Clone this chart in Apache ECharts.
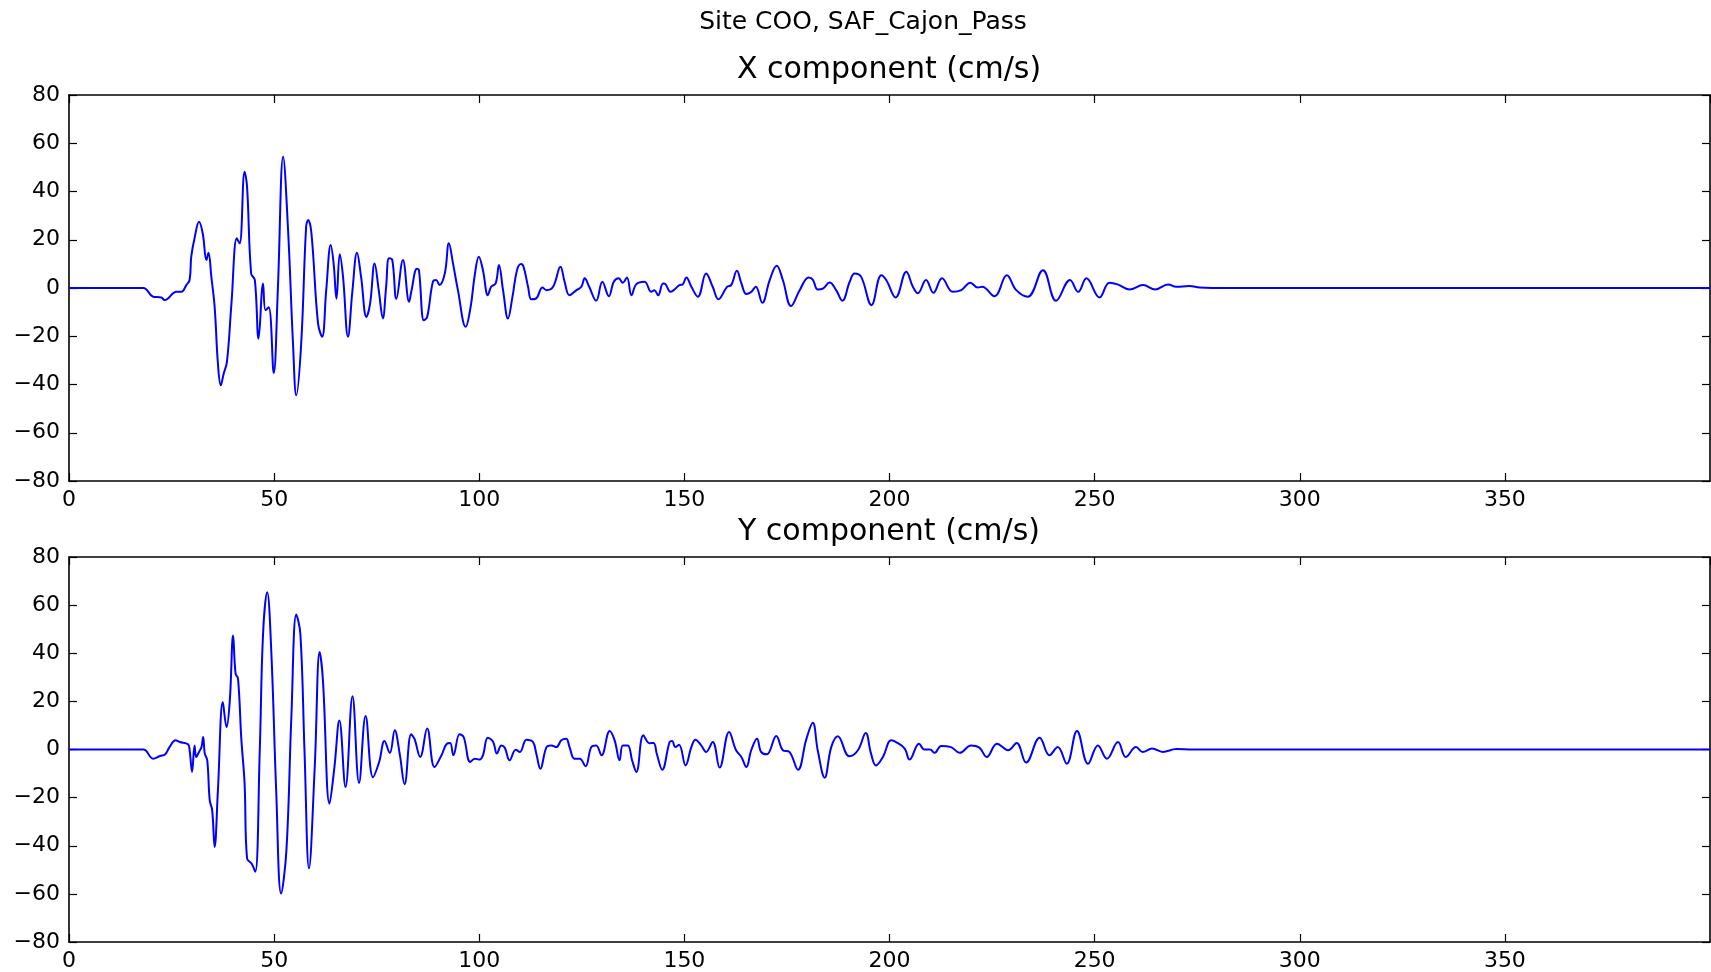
<!DOCTYPE html>
<html>
<head>
<meta charset="utf-8">
<script src="https://cdn.jsdelivr.net/npm/echarts@6/dist/echarts.min.js"></script>
<style>
html,body{margin:0;padding:0;background:#fff;}
#chart{width:1711px;height:972px;}
</style>
</head>
<body>
<div id="chart"></div>
<script>
// ---- data ----
const suptitle = 'Site COO, SAF_Cajon_Pass';
const panelTitles = ['X component (cm/s)', 'Y component (cm/s)'];

const timeX = [0, 18.1, 20.5, 22.5, 23.3, 26.2, 27.4, 28.6, 29.4, 29.8, 30.6, 31.7, 32.6, 33.5, 34.0, 34.7, 35.5, 36.3, 37.0, 37.7, 38.5, 39.6, 40.9, 41.6, 42.8, 43.4, 44.4, 45.3, 46.2, 47.3, 47.9, 48.7, 49.9, 50.9, 52.2, 53.4, 54.6, 55.4, 56.6, 57.8, 58.3, 59.1, 60.7, 61.7, 62.7, 63.8, 64.5, 65.2, 66.0, 66.8, 68.0, 69.1, 70.2, 71.2, 72.5, 73.4, 74.5, 75.5, 76.5, 77.3, 78.0, 78.8, 79.8, 81.4, 82.9, 83.5, 84.8, 85.3, 86.5, 87.3, 88.7, 89.5, 90.3, 91.6, 92.6, 93.6, 94.8, 96.7, 97.9, 98.9, 99.9, 100.9, 102.1, 102.9, 104.0, 104.8, 105.8, 107.0, 108.1, 109.2, 110.2, 110.8, 111.9, 112.7, 113.9, 115.4, 116.4, 118.0, 119.8, 120.8, 122.0, 123.7, 124.9, 125.7, 126.8, 128.5, 130.0, 131.6, 132.8, 134.0, 135.0, 136.0, 137.1, 138.3, 140.3, 141.9, 142.7, 143.6, 144.8, 145.4, 146.6, 147.6, 148.8, 149.6, 150.5, 151.7, 153.3, 155.3, 156.9, 158.3, 160.4, 161.4, 162.8, 163.9, 165.1, 166.3, 167.4, 169.0, 170.8, 172.5, 174.0, 176.0, 178.1, 180.3, 181.3, 182.5, 183.7, 185.4, 187.0, 188.5, 190.3, 191.5, 193.1, 195.6, 198.0, 199.2, 201.5, 204.1, 205.7, 206.9, 208.9, 210.7, 212.8, 215.4, 217.5, 219.7, 221.5, 222.6, 225.6, 228.6, 230.9, 233.7, 237.4, 240.6, 244.0, 246.0, 248.0, 251.2, 253.6, 255.6, 258.5, 261.8, 264.8, 267.9, 269.9, 273.1, 275.6, 278.5, 400];
const velX = [0, 0, -3.6, -3.9, -5, -1.6, -1.6, 1.2, 3.3, 13, 20.6, 27.5, 22.6, 11.6, 14.6, 4.6, -7.8, -31.3, -40.3, -35.5, -30.6, -6.4, 20.6, 18.5, 48.2, 42, 6, 3.3, -21, 1.9, -9.2, -8, -35.2, -0.9, 54.4, 24, -23, -44.5, -23, 25.4, 28.2, 22.6, -14.7, -20.2, -0.9, 17.8, 10.2, -4.4, 14, 4.6, -20.2, -0.9, 14.6, 4.6, -12, -6.4, 10.2, -0.9, -12.6, 0.5, 12.3, 11.6, -4.5, 11.6, -5.7, -0.9, 8, 7.4, -13.4, -12, 2.6, 3.3, 1.2, 6, 18.5, 10.2, -0.9, -16.1, -7.8, 5.3, 13, 7.4, -3, 0.5, 1.9, 9.5, -0.9, -12.6, -3.6, 7.4, 9.9, 8.8, 0.5, -4.7, -4.3, 0.2, -0.9, 0.5, 8.8, 2.6, -3, -0.9, 0.5, 4, 0.5, -5.3, 2.6, -3.4, 2.6, 4, 2.2, 4.4, -3, 1.6, 2.6, -1.6, -0.9, -3, 1.9, 1.6, -1.6, -0.6, 1.2, 1.5, 4.4, 0.5, -3.6, 6, 0.5, -4.7, 0.5, 1.2, 7.1, 1.9, -2.5, -1.6, 0.5, -6.1, 3.3, 9.2, 3.3, -7.5, -0.9, 4.4, 3.5, -0.6, -0.3, 2.3, -0.9, -5.3, 2.6, 6, 4.6, -7.1, 5.3, 3.3, -3.9, 6.7, 0.5, -2.2, 3.3, -2, 4, -1.6, -0.9, 2.2, 0.2, 0.5, -3.4, 5.3, -0.9, -3.6, 7.4, -5.3, 3.3, -1.6, 4, -3.9, 2.2, 1.5, -0.6, 1.2, -0.6, 1.5, 0.5, 0.8, 0.2, 0, 0];

const timeY = [0, 18.1, 20.5, 22.2, 23.4, 24.5, 26.0, 27.0, 29.0, 29.4, 30.0, 30.6, 31.0, 31.7, 32.3, 32.7, 33.1, 33.7, 34.3, 34.9, 35.5, 36.3, 37.5, 38.4, 39.2, 40.0, 40.6, 41.2, 42.0, 42.8, 43.4, 44.5, 45.4, 46.5, 47.3, 48.3, 49.3, 50.5, 51.7, 53.0, 54.2, 55.4, 56.4, 57.4, 58.5, 59.9, 61.1, 61.9, 63.5, 64.7, 65.9, 67.4, 69.1, 70.7, 72.3, 74.1, 75.6, 76.9, 78.2, 79.4, 80.6, 81.8, 83.4, 84.2, 85.6, 87.3, 89.1, 90.8, 92.1, 92.9, 93.7, 95.2, 96.2, 97.8, 98.9, 100.1, 100.9, 102.1, 103.4, 104.3, 105.4, 106.2, 107.4, 108.9, 109.9, 111.5, 113.1, 113.9, 114.9, 116.4, 117.6, 118.8, 120.0, 121.2, 122.0, 123.2, 124.5, 125.9, 127.3, 128.5, 129.8, 131.8, 133.0, 134.2, 135.0, 136.2, 137.3, 138.3, 140.0, 141.5, 142.5, 143.3, 144.6, 146.4, 147.0, 147.8, 148.7, 150.3, 151.7, 152.7, 154.1, 155.3, 156.9, 158.6, 160.9, 162.6, 163.9, 165.1, 166.3, 167.7, 168.7, 170.1, 172.4, 174.0, 175.6, 177.7, 179.7, 181.3, 182.5, 184.2, 185.8, 187.4, 190.2, 192.3, 194.2, 195.5, 196.7, 198.4, 200.4, 201.6, 203.7, 204.9, 207.2, 208.5, 209.9, 211.0, 212.6, 215.0, 217.1, 219.9, 221.9, 223.7, 226.2, 228.9, 231.0, 233.3, 236.6, 239.0, 241.0, 243.2, 245.7, 248.4, 250.8, 253.0, 255.7, 257.6, 260.1, 261.7, 264.0, 266.6, 269.9, 274, 400];
const velY = [0, 0, -3.8, -2.7, -2.1, 1, 3.8, 3.1, 2.2, -0.3, -9.3, 1.7, -3.1, -1, 1, 5.2, -1.7, -4.5, -21, -25.2, -40.5, -16.9, 19.7, 9.3, 20.4, 47.4, 31.5, 29.4, 4.5, -14.2, -45.3, -47.4, -50.8, -0.3, 48, 65.4, 41.1, -16.9, -59.8, -41.8, 13.5, 56.1, 48, -0.3, -49.4, -7.3, 40.5, 28.7, -22.5, -7.3, 12.1, -15.6, 22.1, -13.9, 13.9, -11.5, -5.2, 3.5, -1.5, 8, -1.7, -14.4, 6.3, 4.5, -3.1, 8.7, -7.3, -2.4, 2.4, 2.7, -2.4, 6.3, 5.2, -5.2, -3.8, -4.2, -2.4, 4.9, 3.1, -1.7, 1.7, 0.8, -4.5, -0.1, -1, 4.1, 3.1, -1.7, -8, 1, 1.7, 1, 3.8, 4.5, 1, -3.8, -3.8, -7, 1, 1.7, -2.4, 7.7, 3.8, -4.5, 1.7, 1.7, -4.8, -9.3, 5.9, 2.6, 2.7, -2, -8.4, 3.1, 3.5, 1, 2, -6.6, 1, 4.1, 1.7, -1, 3.1, -7.5, 7.3, -0.3, -3.1, -7.3, -0.3, 4.5, -1, -2, 5.6, -0.3, -1, -8.4, 4.1, 11.1, -0.3, -11.7, 1, 5.5, -2.8, -0.3, 6.9, -1.7, -6.6, -3.1, 3.8, 3.1, 0.4, -4.2, 2.4, 0, 0, -1.4, 1.5, 1, -1.4, 1.7, 0.8, -3.1, 2.4, -0.3, 2.7, -5.4, 4.9, -2.4, 1, -5.9, 7.7, -5.9, 1.7, -3.8, 3.1, -3.1, 1, -1, 0.4, -1, 0.2, 0, 0];

const xTicks = { min: 0, max: 400, interval: 50 };
const yTicks = { min: -80, max: 80, interval: 20 };

// ---- chart ----
const FONT = 'DejaVu Sans';
const zip = (a, b) => a.map((v, i) => [v, b[i]]);
const grids = [
  { left: 69, top: 95, width: 1641, height: 386 },
  { left: 69, top: 557, width: 1641, height: 385 }
];
const lineStyleAxis = { color: '#000', width: 1.6 };
const tickStyle = { inside: true, length: 8, lineStyle: { color: '#000', width: 1.2 } };

function xAxisPair(gi) {
  return [
    { type: 'value', gridIndex: gi, position: 'bottom', min: xTicks.min, max: xTicks.max, interval: xTicks.interval,
      axisLine: { onZero: false, lineStyle: lineStyleAxis }, axisTick: tickStyle,
      axisLabel: { showMaxLabel: false, color: '#000', fontSize: 22, fontFamily: FONT, margin: 8 },
      splitLine: { show: false } },
    { type: 'value', gridIndex: gi, position: 'top', min: xTicks.min, max: xTicks.max, interval: xTicks.interval,
      axisLine: { onZero: false, lineStyle: lineStyleAxis }, axisTick: tickStyle,
      axisLabel: { show: false }, splitLine: { show: false } }
  ];
}
function yAxisPair(gi) {
  return [
    { type: 'value', gridIndex: gi, position: 'left', min: yTicks.min, max: yTicks.max, interval: yTicks.interval,
      axisLine: { show: true, onZero: false, lineStyle: lineStyleAxis }, axisTick: { show: true, ...tickStyle },
      axisLabel: { color: '#000', fontSize: 22, fontFamily: FONT, margin: 9,
        formatter: v => String(v).replace('-', '\u2212') },
      splitLine: { show: false } },
    { type: 'value', gridIndex: gi, position: 'right', min: yTicks.min, max: yTicks.max, interval: yTicks.interval,
      axisLine: { show: true, onZero: false, lineStyle: lineStyleAxis }, axisTick: { show: true, ...tickStyle },
      axisLabel: { show: false }, splitLine: { show: false } }
  ];
}

const titleStyle = size => ({ fontSize: size, fontWeight: 'normal', fontFamily: FONT, color: '#000' });
const option = {
  animation: false,
  backgroundColor: '#fff',
  title: [
    { text: suptitle, left: 858, top: 5, textAlign: 'center', textStyle: titleStyle(25) },
    { text: panelTitles[0], left: 884, top: 50, textAlign: 'center', textStyle: titleStyle(30) },
    { text: panelTitles[1], left: 884, top: 512, textAlign: 'center', textStyle: titleStyle(30) }
  ],
  grid: grids,
  xAxis: [...xAxisPair(0), ...xAxisPair(1)],
  yAxis: [...yAxisPair(0), ...yAxisPair(1)],
  series: [
    { type: 'line', xAxisIndex: 0, yAxisIndex: 0, data: zip(timeX, velX), showSymbol: false, smooth: 0.4,
      lineStyle: { color: '#0000ff', width: 2 } },
    { type: 'line', xAxisIndex: 2, yAxisIndex: 2, data: zip(timeY, velY), showSymbol: false, smooth: 0.4,
      lineStyle: { color: '#0000ff', width: 2 } }
  ]
};
echarts.init(document.getElementById('chart')).setOption(option);
</script>
</body>
</html>
